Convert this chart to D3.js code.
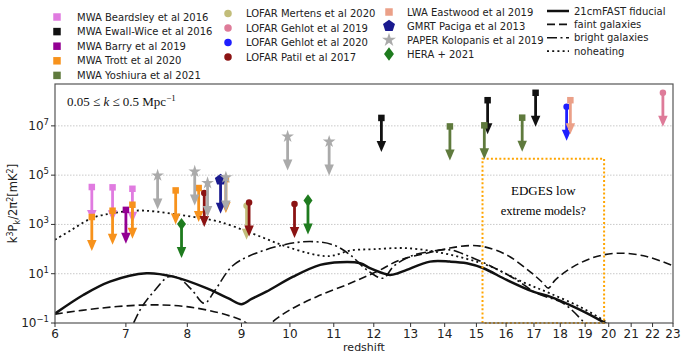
<!DOCTYPE html>
<html><head><meta charset="utf-8">
<script src="https://cdn.jsdelivr.net/npm/d3@7"></script>
<style>body{margin:0;background:#fff} svg{display:block}</style>
</head><body><svg id="c" width="682" height="353"></svg>
<script>
// ---------- ticks ----------
const xTickValues = [6,7,8,9,10,11,12,13,14,15,16,17,18,19,20,21,22,23];
const yTickValues = [1e-1, 1e1, 1e3, 1e5, 1e7];
const yTickExponents = ["−1","1","3","5","7"];

// ---------- upper limits [redshift, k^3P/2pi^2 (mK^2)] ----------
const mwaBeardsley   = [[6.5,3.3e4],[6.8,3.2e4],[7.1,2.8e4]];
const mwaEwallWice   = [[12.2,2.1e7],[15.37,1.1e8],[17.06,2.2e8]];
const mwaBarry       = [[7.0,3.9e3]];
const mwaTrott       = [[6.5,2.0e3],[6.8,3.6e3],[7.1,6.3e3],[7.8,2.4e4],[8.2,3.0e4],[8.7,6.9e4]];
const mwaYoshiura    = [[14.16,9.5e6],[15.26,1.05e7],[16.57,2.15e7]];
const lofarMertens   = [[9.1,5.7e3]];
const lofarGehlot2019= [[22.5,2.2e8]];
const lofarGehlot2020= [[18.25,5.9e7]];
const lofarPatil     = [[8.3,1.9e4],[9.15,7.8e3],[10.1,6.7e3]];
const lwaEastwood    = [[18.4,1.1e8]];
const gmrtPaciga     = [[8.6,6.5e4]];
const paperKolopanis = [[7.5,9.7e4],[8.13,1.4e5],[8.36,4.8e4],[8.7,8.1e4],[9.95,3.7e6],[10.89,2.3e6]];
const heraLimits     = [[7.9,1.03e3],[10.4,9.4e3]];

// ---------- model curves ----------
const fiducial = [[6,0.24],[6.38,1.37],[6.76,4.8],[7.32,10.5],[7.76,7.6],[8.34,2.6],[8.75,1.0],[9.0,0.58],[9.2,0.95],[9.5,1.87],[10.07,7.6],[10.68,22.8],[11.15,29.3],[11.65,26.7],[11.9,16.7],[12.2,11],[12.43,8.9],[12.65,10.5],[12.89,14.3],[13.56,31],[14.16,31],[14.69,26.7],[15.23,16.7],[16.02,5.6],[16.97,1.87],[17.6,1.17],[18.52,0.46],[19.48,0.155],[19.84,0.1],[20.1,0.075]];
const faint = [[6,0.23],[6.62,0.40],[7.32,0.54],[7.99,0.46],[8.72,0.21],[9.1,0.097],[9.35,0.02],[9.58,0.09],[10.0,0.34],[10.6,1.17],[11.4,4.1],[12.08,12.2],[12.7,36],[13.46,68],[14.16,110],[14.79,139],[15.23,126],[16.02,58],[16.85,12.2],[17.3,4.6],[17.54,2.6],[17.8,5.5],[18.52,19.4],[19.48,50],[20.5,68],[21.72,50],[23,21]];
const bright = [[7.0,0.02],[7.11,0.09],[7.25,0.46],[7.46,2.2],[7.68,7.6],[7.85,6.6],[8.08,2.2],[8.3,0.63],[8.5,2.2],[8.81,19.4],[9.13,50],[9.86,148],[10.45,202],[10.99,148],[11.4,58],[11.82,14.3],[12.25,6.6],[12.52,19.4],[12.98,50],[13.56,79],[14.16,93],[14.69,55],[15.45,21],[16.37,5.6],[17.1,1.6],[18.12,0.63],[18.93,0.113],[19.2,0.06]];
const noheating = [[6,237],[6.22,603],[6.5,1800],[6.81,2880],[7.19,3670],[7.46,3340],[7.79,2620],[8.13,1980],[8.56,1310],[9.2,443],[9.82,148],[10.41,68],[10.79,52],[11.0,55],[11.4,87],[11.99,99],[12.89,109],[13.86,72],[14.69,40],[15.45,20],[16.61,4.5],[17.6,1.6],[18.79,0.45],[19.77,0.13],[20.1,0.08]];

// EDGES box [zmin, zmax], [ymin, ymax]
const edgesZ = [15.2, 19.8];
const edgesY = [0.1, 4.6e5];

// ---------- styling ----------
const limitSets = [
  {name:"MWA Beardsley et al 2016", data:mwaBeardsley, color:"#e07be0", sym:"square", col:0},
  {name:"MWA Ewall-Wice et al 2016", data:mwaEwallWice, color:"#111111", sym:"square", col:0},
  {name:"MWA Barry et al 2019", data:mwaBarry, color:"#930093", sym:"square", col:0},
  {name:"MWA Trott et al 2020", data:mwaTrott, color:"#f7921c", sym:"square", col:0},
  {name:"MWA Yoshiura et al 2021", data:mwaYoshiura, color:"#5f7a3d", sym:"square", col:0},
  {name:"LOFAR Mertens et al 2020", data:lofarMertens, color:"#c2bd7a", sym:"circle", col:1},
  {name:"LOFAR Gehlot et al 2019", data:lofarGehlot2019, color:"#de7b99", sym:"circle", col:1},
  {name:"LOFAR Gehlot et al 2020", data:lofarGehlot2020, color:"#1f1fff", sym:"circle", col:1},
  {name:"LOFAR Patil et al 2017", data:lofarPatil, color:"#8b1313", sym:"circle", col:1},
  {name:"LWA Eastwood et al 2019", data:lwaEastwood, color:"#eba088", sym:"square", col:2},
  {name:"GMRT Paciga et al 2013", data:gmrtPaciga, color:"#1a1a8f", sym:"pentagon", col:2},
  {name:"PAPER Kolopanis et al 2019", data:paperKolopanis, color:"#aaaaaa", sym:"star", col:2},
  {name:"HERA + 2021", data:heraLimits, color:"#1e7b1e", sym:"diamond", col:2}
];
const curveSets = [
  {name:"21cmFAST fiducial", data:fiducial, width:2.5, dash:null},
  {name:"faint galaxies", data:faint, width:1.6, dash:"8,4"},
  {name:"bright galaxies", data:bright, width:1.6, dash:"10,3.5,2,3.5"},
  {name:"noheating", data:noheating, width:1.8, dash:"2,3.2"}
];

const svg = d3.select("#c");
const L=55, R=673, T=84, B=323;
const x = d3.scaleLog().domain([6,23]).range([L,R]);
const y = d3.scaleLog().domain([0.1, 5e8]).range([B,T]);

svg.append("defs").append("clipPath").attr("id","clip")
  .append("rect").attr("x",L).attr("y",T).attr("width",R-L).attr("height",B-T);

// grid
svg.append("g").selectAll("line").data(yTickValues.slice(1)).join("line")
  .attr("x1",L).attr("x2",R).attr("y1",d=>y(d)).attr("y2",d=>y(d))
  .attr("stroke","#bbbbbb").attr("stroke-width",0.8).attr("stroke-dasharray","1.5,1.5");

// curves
const line = d3.line().x(d=>x(d[0])).y(d=>y(d[1])).curve(d3.curveCatmullRom.alpha(0.5));
const cg = svg.append("g").attr("clip-path","url(#clip)");
curveSets.forEach(c=>{
  cg.append("path").attr("d",line(c.data)).attr("fill","none").attr("stroke","#111")
    .attr("stroke-width",c.width).attr("stroke-dasharray",c.dash);
});

// EDGES box
svg.append("rect").attr("x",x(edgesZ[0])).attr("y",y(edgesY[1]))
  .attr("width",x(edgesZ[1])-x(edgesZ[0])).attr("height",y(edgesY[0])-y(edgesY[1]))
  .attr("fill","none").attr("stroke","#ffa500").attr("stroke-width",2).attr("stroke-dasharray","2,2.2");
const edX = (x(edgesZ[0])+x(edgesZ[1]))/2;
svg.append("text").attr("x",edX).attr("y",195).attr("text-anchor","middle")
  .attr("font-family","Liberation Serif, Times New Roman, serif").attr("font-size",13).text("EDGES low");
svg.append("text").attr("x",edX).attr("y",215).attr("text-anchor","middle")
  .attr("font-family","Liberation Serif, Times New Roman, serif").attr("font-size",12.5).text("extreme models?");

// symbol helper
function symPath(sym, s){
  if(sym==="square") return d3.symbol(d3.symbolSquare, s*s)();
  if(sym==="circle") return d3.symbol(d3.symbolCircle, Math.PI*s*s/4)();
  if(sym==="star") return d3.symbol(d3.symbolStar, s*s*0.5)();
  if(sym==="diamond"){ const h=s*0.62, w=s*0.45; return `M0,${-h}L${w},0L0,${h}L${-w},0Z`; }
  if(sym==="pentagon"){
    const r=s*0.6; const pts=d3.range(5).map(i=>{const a=-Math.PI/2+i*2*Math.PI/5;return [r*Math.cos(a),r*Math.sin(a)];});
    return "M"+pts.map(p=>p.join(",")).join("L")+"Z";
  }
}

// upper limit arrows
const ag = svg.append("g");
const arrowLen=34, headLen=11, headW=9.5;
limitSets.forEach(s=>{
  s.data.forEach(d=>{
    const px=x(d[0]), py=y(d[1]);
    const g=ag.append("g");
    g.append("line").attr("x1",px).attr("x2",px).attr("y1",py).attr("y2",py+arrowLen-headLen+1)
      .attr("stroke",s.color).attr("stroke-width",2.8);
    g.append("path").attr("d",`M${px-headW/2},${py+arrowLen-headLen}L${px+headW/2},${py+arrowLen-headLen}L${px},${py+arrowLen}Z`)
      .attr("fill",s.color);
    const sz = s.sym==="star"?10:(s.sym==="pentagon"?10:(s.sym==="diamond"?10:6.5));
    g.append("path").attr("d",symPath(s.sym,sz)).attr("transform",`translate(${px},${py})`).attr("fill",s.color);
  });
});

// frame
svg.append("rect").attr("x",L).attr("y",T).attr("width",R-L).attr("height",B-T)
  .attr("fill","none").attr("stroke","#555").attr("stroke-width",1.2);

// x axis
const xa = svg.append("g");
xTickValues.forEach(v=>{
  xa.append("line").attr("x1",x(v)).attr("x2",x(v)).attr("y1",B).attr("y2",B+4).attr("stroke","#333").attr("stroke-width",1);
  xa.append("text").attr("x",x(v)).attr("y",B+15).attr("text-anchor","middle")
    .attr("font-family","DejaVu Sans, sans-serif").attr("font-size",12).attr("fill","#222").text(v);
});
svg.append("text").attr("x",(L+R)/2).attr("y",351).attr("text-anchor","middle")
  .attr("font-family","DejaVu Sans, sans-serif").attr("font-size",11).attr("fill","#222").text("redshift");

// y axis
const ya = svg.append("g");
yTickValues.forEach((v,i)=>{
  ya.append("line").attr("x1",L-4).attr("x2",L).attr("y1",y(v)).attr("y2",y(v)).attr("stroke","#333");
  const t = ya.append("text").attr("x",L-6).attr("y",y(v)+4).attr("text-anchor","end")
    .attr("font-family","DejaVu Sans, sans-serif").attr("font-size",12).attr("fill","#222");
  t.append("tspan").text("10");
  t.append("tspan").attr("dy",-5).attr("font-size",8.5).text(yTickExponents[i]);
});
const yl = svg.append("text").attr("transform",`translate(17,${(T+B)/2}) rotate(-90)`).attr("text-anchor","middle")
  .attr("font-family","DejaVu Sans, sans-serif").attr("font-size",11.5).attr("fill","#222");
yl.append("tspan").text("k");
yl.append("tspan").attr("dy",-4).attr("font-size",8).text("3");
yl.append("tspan").attr("dy",4).text("P");
yl.append("tspan").attr("dy",3).attr("font-size",8).text("k");
yl.append("tspan").attr("dy",-3).text("/2π");
yl.append("tspan").attr("dy",-4).attr("font-size",8).text("2");
yl.append("tspan").attr("dy",4).text("[mK");
yl.append("tspan").attr("dy",-4).attr("font-size",8).text("2");
yl.append("tspan").attr("dy",4).text("]");

// k range annotation
const ann = svg.append("text").attr("x",67).attr("y",106)
  .attr("font-family","Liberation Serif, Times New Roman, serif").attr("font-size",13).attr("fill","#111");
ann.append("tspan").text("0.05 ≤ ");
ann.append("tspan").attr("font-style","italic").text("k");
ann.append("tspan").text(" ≤ 0.5 Mpc");
ann.append("tspan").attr("dy",-5).attr("font-size",9).text("−1");

// legend
const colX = [[57,77],[228,246],[389,407]];
const colY0 = [17,13.5,12];
const colDy = [14.6,14.5,14];
const lg = svg.append("g").attr("font-family","DejaVu Sans, sans-serif").attr("font-size",10).attr("fill","#222");
const counters=[0,0,0];
limitSets.forEach(s=>{
  const c=s.col, i=counters[c]++;
  const yy=colY0[c]+i*colDy[c];
  const sz = s.sym==="star"?11:(s.sym==="pentagon"?10.5:(s.sym==="diamond"?11:7.5));
  lg.append("path").attr("d",symPath(s.sym,sz)).attr("transform",`translate(${colX[c][0]},${yy})`).attr("fill",s.color);
  lg.append("text").attr("x",colX[c][1]).attr("y",yy+3.5).text(s.name);
});
curveSets.forEach((c,i)=>{
  const yy=11+i*13.4;
  lg.append("line").attr("x1",547).attr("x2",569).attr("y1",yy).attr("y2",yy).attr("stroke","#111")
    .attr("stroke-width",c.width).attr("stroke-dasharray",c.dash);
  lg.append("text").attr("x",574).attr("y",yy+3.5).text(c.name);
});
</script></body></html>
